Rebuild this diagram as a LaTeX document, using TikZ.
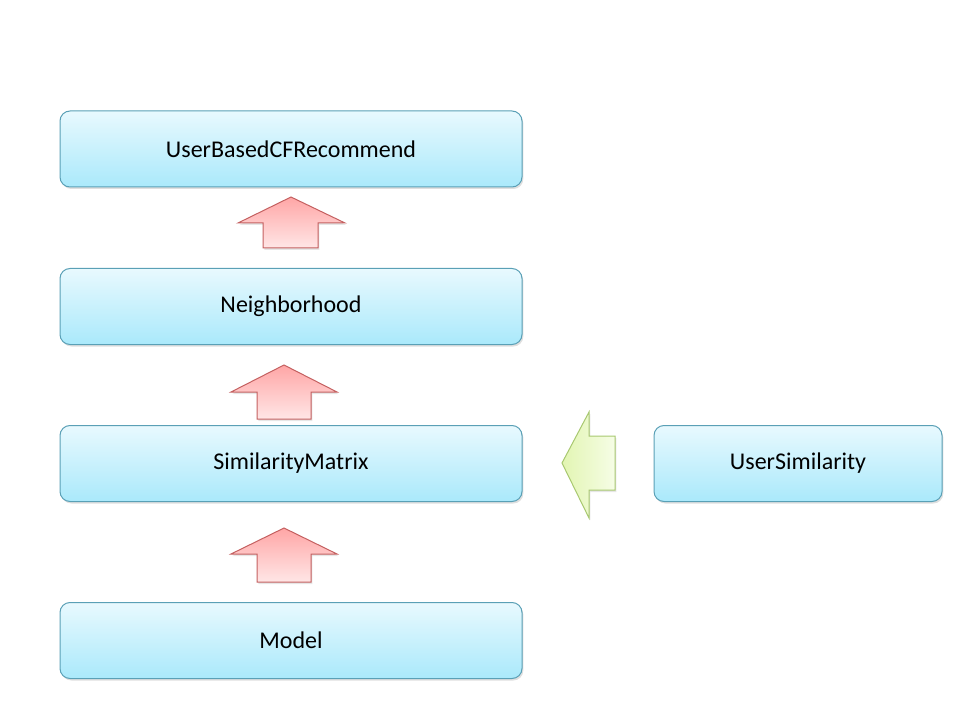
\documentclass[tikz,border=0pt]{standalone}
\usepackage{fontspec}
\setmainfont{Carlito}
\usetikzlibrary{shadows}

\definecolor{boxtop}{RGB}{232,249,254}
\definecolor{boxbottom}{RGB}{170,233,251}
\definecolor{boxline}{RGB}{90,160,182}
\definecolor{uptop}{RGB}{255,166,166}
\definecolor{upbottom}{RGB}{255,230,230}
\definecolor{upline}{RGB}{196,96,96}
\definecolor{leftleft}{RGB}{226,245,178}
\definecolor{leftright}{RGB}{246,253,230}
\definecolor{leftline}{RGB}{168,200,112}

\tikzset{every picture/.style={line width=0.75pt}}
\tikzset{
  classbox/.style={draw=boxline, rounded corners=7.5pt, top color=boxtop, bottom color=boxbottom,
    minimum width=346.5pt, minimum height=57pt, font=\fontsize{18}{21}\selectfont,
    drop shadow={opacity=0.25, shadow xshift=1pt, shadow yshift=-1.5pt}},
  uparrow/.style={draw=upline, top color=uptop, bottom color=upbottom,
    drop shadow={opacity=0.2, shadow xshift=1pt, shadow yshift=-1.5pt}},
  leftarrow/.style={draw=leftline, left color=leftleft, right color=leftright,
    drop shadow={opacity=0.2, shadow xshift=1pt, shadow yshift=-1.5pt}}
}

\begin{document}
\begin{tikzpicture}[x=0.75pt,y=0.75pt,yscale=-1,xscale=1]
\useasboundingbox (0,0) rectangle (960,720);

% Boxes
\node [classbox] (recommend) at (291,149) {UserBasedCFRecommend};
\node [classbox] (neighborhood) at (291,306.5) {Neighborhood};
\node [classbox] (simmatrix) at (291,463.5) {SimilarityMatrix};
\node [classbox] (model) at (291,640.5) {Model};
\node [classbox, minimum width=216pt] (usersim) at (798,463.5) {UserSimilarity};

% Arrow
\draw [uparrow] (291,197) -- (345,223) -- (318,223) -- (318,248) -- (263,248) -- (263,223) -- (238,223) -- cycle ;
% Arrow
\draw [uparrow] (284,365) -- (337,392) -- (311,392) -- (311,419) -- (257,419) -- (257,392) -- (231,392) -- cycle ;
% Arrow
\draw [uparrow] (284,528) -- (337,554) -- (311,554) -- (311,582) -- (257,582) -- (257,554) -- (231,554) -- cycle ;
% Arrow
\draw [leftarrow] (562,463) -- (589,412) -- (589,436) -- (615,436) -- (615,490) -- (589,490) -- (589,518) -- cycle ;

\end{tikzpicture}
\end{document}
